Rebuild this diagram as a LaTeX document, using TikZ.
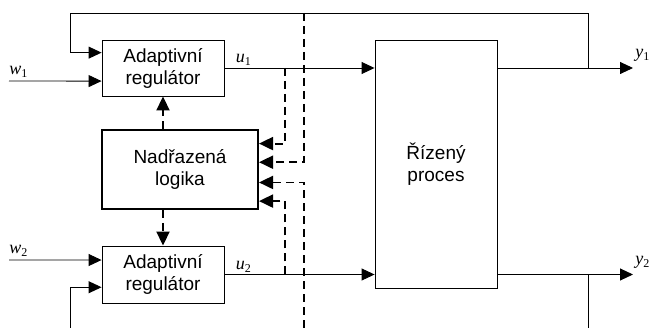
\documentclass[tikz,border=0pt]{standalone}
\usepackage{fontspec}
\setmainfont{Liberation Sans}
\newfontfamily\velfont{Liberation Serif}
\newcommand\vel[2]{{\velfont\itshape #1}\raisebox{-0.3ex}{\velfont\fontsize{12}{12}\selectfont #2}}
\usetikzlibrary{arrows.meta,calc}
\tikzset{
  blok/.style={draw,line width=0.9pt,align=center,inner sep=0pt,font=\fontsize{19}{22}\selectfont},
  sig/.style={line width=0.9pt,-{Triangle[length=13pt,width=12pt]}},
  cary/.style={line width=1.9pt,dash pattern=on 8pt off 5pt,-{Triangle[length=14pt,width=13pt]}},
  popis/.style={anchor=base west,inner sep=0pt,font=\fontsize{18}{20}\selectfont}
}
\begin{document}
\begin{tikzpicture}[x=1pt,y=-1pt]
    \useasboundingbox (0,0) rectangle (650,328);
    % bloky
    \node[blok,minimum width=122pt,minimum height=56pt] (ar1) at (163,68) {Adaptivní\\regulátor};
    \node[blok,minimum width=122pt,minimum height=57pt] (ar2) at (163,274.5) {Adaptivní\\regulátor};
    \node[blok,line width=2pt,minimum width=156pt,minimum height=79pt] (logika) at (180,169.5) {Nadřazená\\logika};
    \node[blok,minimum width=122pt,minimum height=248pt] (proces) at (436,164) {Řízený\\proces};
    % volne konce
    \coordinate (w1) at (9,81);    \coordinate (w2) at (9,260);
    \coordinate (y1) at (633,68);  \coordinate (y2) at (633,274.5);
    \coordinate (odb1) at (588,68); \coordinate (odb2) at (588,274.5);
    \coordinate (roh1) at (70,13);  \coordinate (roh2) at (70,328);
    \coordinate (t1) at (285,68);  \coordinate (t2) at (285,274.5);
    \coordinate (horni) at (304,13); \coordinate (dolni) at (304,328);
    % vstupy a zpetne vazby
    \draw[sig] (w1) -- ($(ar1.north west)!0.73!(ar1.south west)$) node[pos=0,popis,yshift=6pt] {\vel{w}{1}};
    \draw[sig] (w2) -- ($(ar2.north west)!0.25!(ar2.south west)$) node[pos=0,popis,yshift=6pt] {\vel{w}{2}};
    \draw[sig] (odb1) |- (roh1) |- ($(ar1.north west)!0.23!(ar1.south west)$);
    \draw[sig] (roh2) |- ($(ar2.north west)!0.72!(ar2.south west)$);
    \draw[line width=0.9pt] (odb2) -- (588,328);
    % akcni veliciny a vystupy
    \draw[sig] (ar1.east) -- (ar1.east -| proces.west) node[pos=0,popis,xshift=11pt,yshift=5pt] {\vel{u}{1}};
    \draw[sig] (ar2.east) -- (ar2.east -| proces.west) node[pos=0,popis,xshift=11pt,yshift=5pt] {\vel{u}{2}};
    \draw[sig] (proces.east |- y1) -- (y1) node[popis,xshift=2pt,yshift=10pt] {\vel{y}{1}};
    \draw[sig] (proces.east |- y2) -- (y2) node[popis,xshift=2pt,yshift=10pt] {\vel{y}{2}};
    % nadrazena logika
    \foreach \z/\f in {t1/0.18,horni/0.41,dolni/0.66,t2/0.89}
      {\draw[cary] (\z) |- ($(logika.north east)!\f!(logika.south east)$);}
    \draw[cary] (logika.north -| ar1.south) -- (ar1.south);
    \draw[cary] (logika.south -| ar2.north) -- (ar2.north);
\end{tikzpicture}
\end{document}
